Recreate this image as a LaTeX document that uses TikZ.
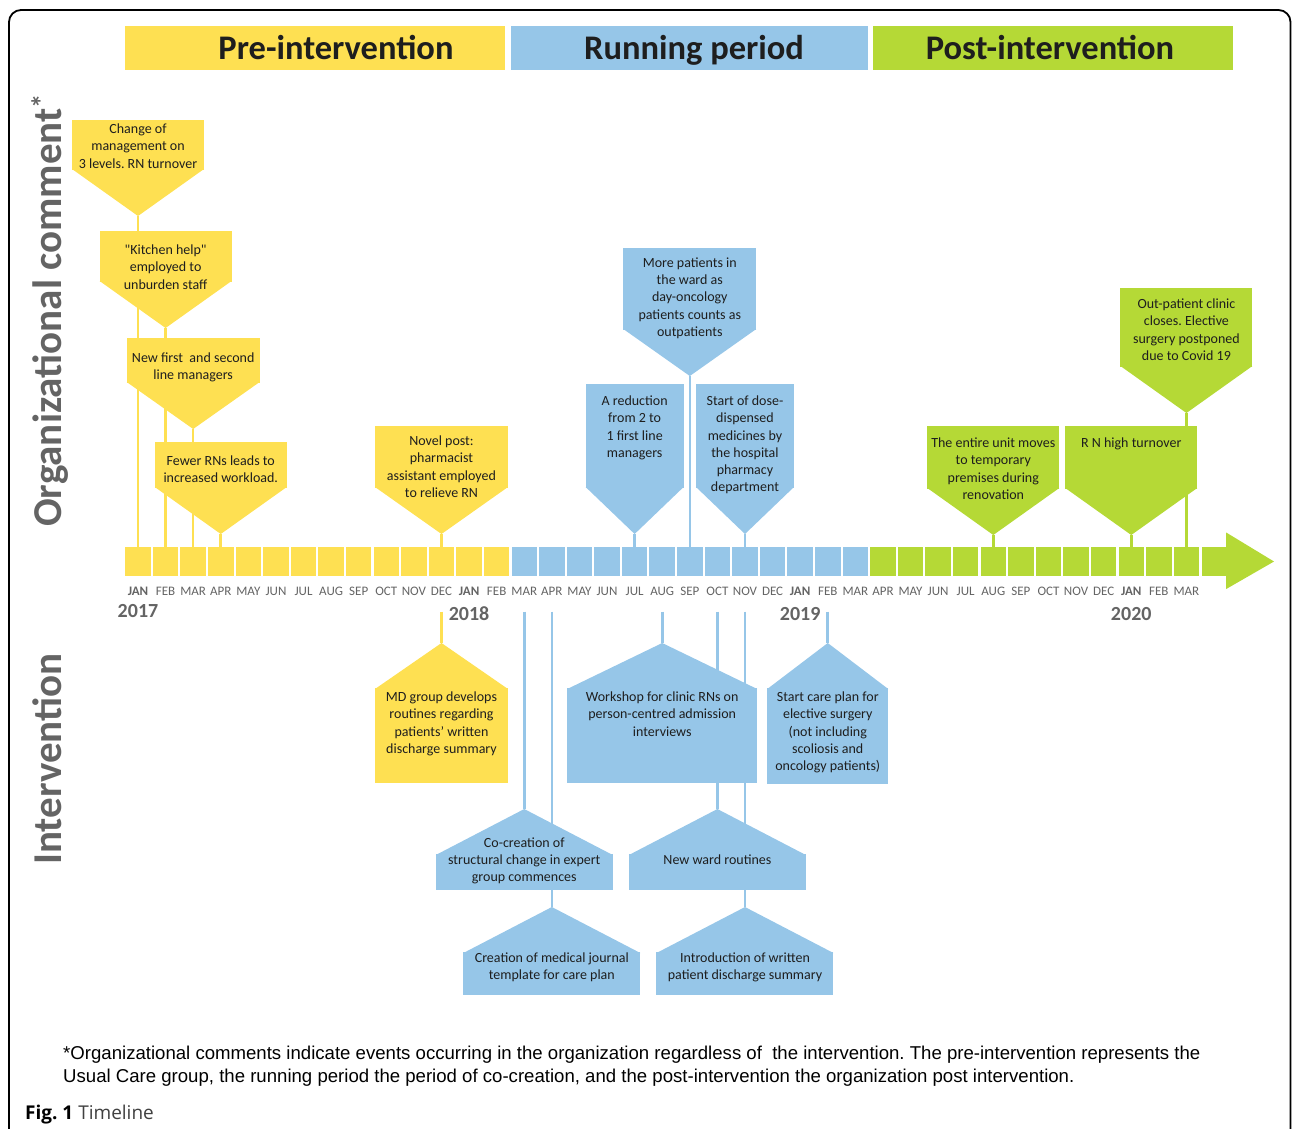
\documentclass[tikz,border=0pt]{standalone}
\usepackage{fontspec}
\setmainfont{Carlito}
\newfontfamily\arialfont{Liberation Sans}
\newfontfamily\figfont{Open Sans}
\usetikzlibrary{positioning,calc,backgrounds}
\definecolor{amarillo}{RGB}{254,224,82}
\definecolor{azul}{RGB}{150,198,232}
\definecolor{verde}{RGB}{181,217,54}
\definecolor{gris}{RGB}{100,100,100}
\definecolor{tinta}{RGB}{30,30,30}
\frenchspacing

% globo con punta hacia abajo: nombre, mes, arriba, hombro, ancho, color, y texto, texto
\newcommand{\globoab}[8]{%
  \node[globo, fill=#6, minimum width=#5, minimum height={#4-#3}, anchor=north] (#1) at (#2 |- 0,#3) {};
  \fill[#6] ($(#1.south west)+(0,-1)$) -- ($(#1.south east)+(0,-1)$) -- ($(#1.south)+(0,46)$) coordinate (#1-p) -- cycle;
  \node[texto, anchor=north] (#1-t) at (#2 |- 0,{#7-5.5}) {#8};
}
% globo con punta hacia arriba: nombre, mes, hombro, abajo, ancho, color, y texto, texto
\newcommand{\globoar}[8]{%
  \node[globo, fill=#6, minimum width=#5, minimum height={#4-#3}, anchor=south] (#1) at (#2 |- 0,#4) {};
  \fill[#6] ($(#1.north west)+(0,1)$) -- ($(#1.north east)+(0,1)$) -- ($(#1.north)+(0,-45)$) coordinate (#1-p) -- cycle;
  \node[texto, anchor=north] (#1-t) at (#2 |- 0,{#7-5.5}) {#8};
}

\begin{document}
\begin{tikzpicture}[
  x=1pt, y=-1pt,
  mes/.style={rectangle, inner sep=0, minimum width=25.5, minimum height=29},
  mesetq/.style={font=\fontsize{13}{15}\selectfont, text=gris, inner sep=0},
  anio/.style={font=\bfseries\fontsize{20}{24}\selectfont, text=gris, inner sep=0},
  globo/.style={rectangle, inner sep=0, outer sep=0},
  texto/.style={font=\fontsize{14}{17.3}\selectfont, align=center, inner sep=0, text=tinta},
  banda/.style={rectangle, inner sep=0, minimum height=44, anchor=north west},
  titulo/.style={font=\bfseries\fontsize{34.5}{40}\selectfont, text=tinta, anchor=base, inner sep=0},
  lateral/.style={font=\bfseries\fontsize{41}{50}\selectfont, text=gris, rotate=90, anchor=base west, inner sep=0},
  tallo/.style={line width=2.6pt},
  marco/.style={line width=1.8pt, rounded corners=12pt}
]
\useasboundingbox (0,0) rectangle (1292,1128);
\draw[marco] (9,1130) -- (9,10) -- (1290.5,10) -- (1290.5,1130);

% periodos
\node[banda, fill=amarillo, minimum width=380] (pre) at (125,26) {};
\node[banda, fill=azul, minimum width=357] (run) at (511,26) {};
\node[banda, fill=verde, minimum width=360] (post) at (873,26) {};
\node[titulo] (pre-t) at (336,59) {Pre-intervention};
\node[titulo] (run-t) at (694,59) {Running period};
\node[titulo] (post-t) at (1050,59) {Post-intervention};

\node[lateral] (org) at (61,527) {Organizational comment\textsuperscript{*}};
\node[lateral] (int) at (61,865) {Intervention};

% linea de tiempo
\foreach \i in {0,...,13}
  \node[mes, fill=amarillo] (m\i) at ({138+27.59*\i},561.5) {};
\foreach \i in {14,...,26}
  \node[mes, fill=azul] (m\i) at ({138+27.59*\i},561.5) {};
\foreach \i in {27,...,38}
  \node[mes, fill=verde] (m\i) at ({138+27.59*\i},561.5) {};
\node[mes, fill=verde, minimum width=25] (cola) at (1214.5,561.5) {};
\fill[verde] ($(cola.east)+(-1,-29)$) -- (1274,561.5) -- ($(cola.east)+(-1,27.5)$) -- cycle;

\foreach \m [count=\i from 0] in {\textbf{JAN},FEB,MAR,APR,MAY,JUN,JUL,AUG,SEP,OCT,NOV,DEC,
    \textbf{JAN},FEB,MAR,APR,MAY,JUN,JUL,AUG,SEP,OCT,NOV,DEC,
    \textbf{JAN},FEB,MAR,APR,MAY,JUN,JUL,AUG,SEP,OCT,NOV,DEC,
    \textbf{JAN},FEB,MAR}
  \node[mesetq, below=10.5pt of m\i] (l\i) {\m};

\node[anio] (a2017) at (m0 |- 0,610.5) {2017};
\node[anio] (a2018) at (m12 |- 0,614) {2018};
\node[anio] (a2019) at (m24 |- 0,614) {2019};
\node[anio] (a2020) at (m36 |- 0,614) {2020};

% comentarios organizacionales
\globoab{c1}{m0}{120}{170}{132}{amarillo}{129}{Change of\\management on\\3 levels. RN turnover}
\globoab{c2}{m1}{231}{282}{132}{amarillo}{250}{\textquotedbl Kitchen help\textquotedbl\\employed to\\unburden staff}
\globoab{c3}{m2}{338}{383}{133}{amarillo}{358}{New first\ \ and second\\line managers}
\globoab{c4}{m3}{442}{488}{132}{amarillo}{461}{Fewer RNs leads to\\increased workload.}
\globoab{c5}{m11}{426}{488}{133}{amarillo}{441}{Novel post:\\pharmacist\\assistant employed\\to relieve RN}
\globoab{c6}{m20}{248}{330}{133}{azul}{263}{More patients in\\the ward as\\day-oncology\\patients counts as\\outpatients}
\globoab{c7}{m18}{384}{488}{98}{azul}{401}{A reduction\\from 2 to\\1 first line\\managers}
\globoab{c8}{m22}{384}{488}{98}{azul}{401}{Start of dose-\\dispensed\\medicines by\\the hospital\\pharmacy\\department}
\globoab{c9}{m38}{288}{367}{132}{verde}{304}{Out-patient clinic\\closes. Elective\\surgery postponed\\due to Covid 19}
\globoab{c10}{m31}{426}{489}{132}{verde}{443}{The entire unit moves\\to temporary\\premises during\\renovation}
\globoab{c11}{m36}{426}{489}{132}{verde}{443}{R N high turnover}

% intervencion
\globoar{b1}{m11}{688}{783}{133}{amarillo}{697}{MD group develops\\routines regarding\\patients’ written\\discharge summary}
\globoar{b2}{m19}{688}{783}{190}{azul}{697}{Workshop for clinic RNs on\\person-centred admission\\interviews}
\globoar{b3}{m25}{688}{784}{121}{azul}{697}{Start care plan for\\elective surgery\\(not including\\scoliosis and\\oncology patients)}
\globoar{b4}{m14}{854}{890}{177}{azul}{843}{Co-creation of\\structural change in expert\\group commences}
\globoar{b5}{m21}{854}{890}{177}{azul}{860}{New ward routines}
\globoar{b6}{m15}{952}{995}{177}{azul}{958}{Creation of medical journal\\template for care plan}
\globoar{b7}{m22}{952}{995}{177}{azul}{958}{Introduction of written\\patient discharge summary}

\begin{scope}[on background layer]
  \foreach \g/\m/\c in {c1/0/amarillo, c2/1/amarillo, c3/2/amarillo, c4/3/amarillo, c5/11/amarillo,
      c6/20/azul, c7/18/azul, c8/22/azul, c9/38/verde, c10/31/verde, c11/36/verde}
    \draw[tallo, \c] (\g-p) -- (m\m);
  \foreach \g/\m/\c in {b1/11/amarillo, b4/14/azul, b6/15/azul, b2/19/azul, b5/21/azul,
      b7/22/azul, b3/25/azul}
    \draw[tallo, \c] ($(m\m)+(0,50)$) coordinate (s\m) -- (\g-p);
\end{scope}

\node[anchor=north west, align=left, inner sep=0, font=\arialfont\fontsize{18.6}{23}\selectfont] (nota) at (63,1045.5)
  {*Organizational comments indicate events occurring in the organization regardless of\ \ the intervention. The pre-intervention represents the\\
   Usual Care group, the running period the period of co-creation, and the post-intervention the organization post intervention.};
\node[anchor=base west, inner sep=0, font=\figfont\fontsize{19}{23}\selectfont] (fig) at (25,1119)
  {\textbf{Fig. 1} \textcolor{black!75}{Timeline}};
\end{tikzpicture}
\end{document}
